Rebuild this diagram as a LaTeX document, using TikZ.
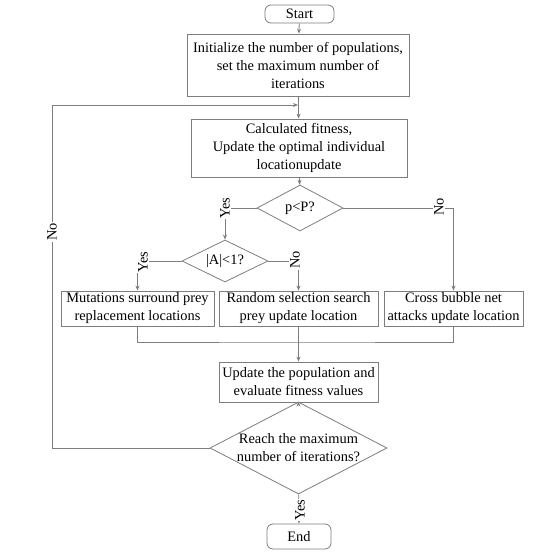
\documentclass[tikz,border=0pt]{standalone}
\usepackage{fontspec}
\setmainfont{Liberation Serif}
\usetikzlibrary{shapes.geometric,arrows.meta}
\definecolor{linec}{RGB}{125,125,125}
\begin{document}
\begin{tikzpicture}[x=1pt,y=-1pt,
  every node/.style={font=\fontsize{14.4}{18}\selectfont, text=black},
  box/.style={draw=linec, line width=0.8pt, rectangle, inner sep=0pt, align=center},
  term/.style={box, rounded corners=6pt},
  dia/.style={draw=linec, line width=0.8pt, diamond, inner sep=0pt},
  dtext/.style={align=center},
  conn/.style={draw=linec, line width=0.8pt},
  arr/.style={conn, -{Stealth[length=5pt,width=4pt]}},
  lbl/.style={fill=white, rotate=90, inner sep=1pt}]
\useasboundingbox (0,0) rectangle (558,552);

\node[term, minimum width=69pt, minimum height=18pt] (start) at (299.5,14) {Start};
\node[box, minimum width=222pt, minimum height=62pt] (init) at (298,65) {Initialize the number of populations,\\set the maximum number of\\iterations};
\coordinate (j) at (298,105);
\node[box, minimum width=216pt, minimum height=58pt] (calc) at (299,148) {Calculated fitness,\\Update the optimal individual\\locationupdate};
\node[dia, minimum width=86pt, minimum height=46pt] (pp) at (300,208) {};
\node[dtext] at (pp) {p<P?};
\node[dia, minimum width=86pt, minimum height=42pt] (aa) at (225,261) {};
\node[dtext] at (aa) {|A|<1?};
\node[box, minimum width=153pt, minimum height=35pt] (mut) at (137.5,308.5) {Mutations surround prey\\replacement locations};
\node[box, minimum width=159pt, minimum height=35pt] (rand) at (298.5,308.5) {Random selection search\\prey update location};
\node[box, minimum width=139pt, minimum height=35pt] (cross) at (453.5,308.5) {Cross bubble net\\attacks update location};
\coordinate (m) at (298.5,342);
\node[box, minimum width=159pt, minimum height=40pt] (upd) at (298.5,382) {Update the population and\\evaluate fitness values};
\node[dia, minimum width=177pt, minimum height=92pt] (reach) at (298.5,448) {};
\node[dtext] at (reach) {Reach the maximum\\number of iterations?};
\node[term, minimum width=64pt, minimum height=25pt] (end) at (299,536.5) {End};
\coordinate (lc) at (52,105);

\draw[arr] (start) -- (init);
\draw[arr] (init) -- (calc);
\draw[arr] (calc) -- (pp);
\draw[arr] (pp.west) -| (aa.north);
\node[lbl] (y1) at (225,208) {Yes};
\draw[arr] (aa.west) -| (mut.north);
\node[lbl] (y2) at (143,262) {Yes};
\draw[arr] (aa.east) -| (rand.north);
\node[lbl] (n2) at (295,260) {No};
\draw[arr] (pp.east) -| (cross.north);
\node[lbl] (n1) at (439,207) {No};
\draw[conn] (mut.south) |- (m) -| (cross.south);
\draw[arr] (rand.south) -- (upd.north);
\draw[arr] (upd) -- (reach);
\draw[arr] (reach) -- (end);
\node[lbl] (y3) at (300,510) {Yes};
\draw[arr] (reach.west) -| (lc) -- (j);
\node[lbl] (n3) at (52,232) {No};
\end{tikzpicture}
\end{document}
